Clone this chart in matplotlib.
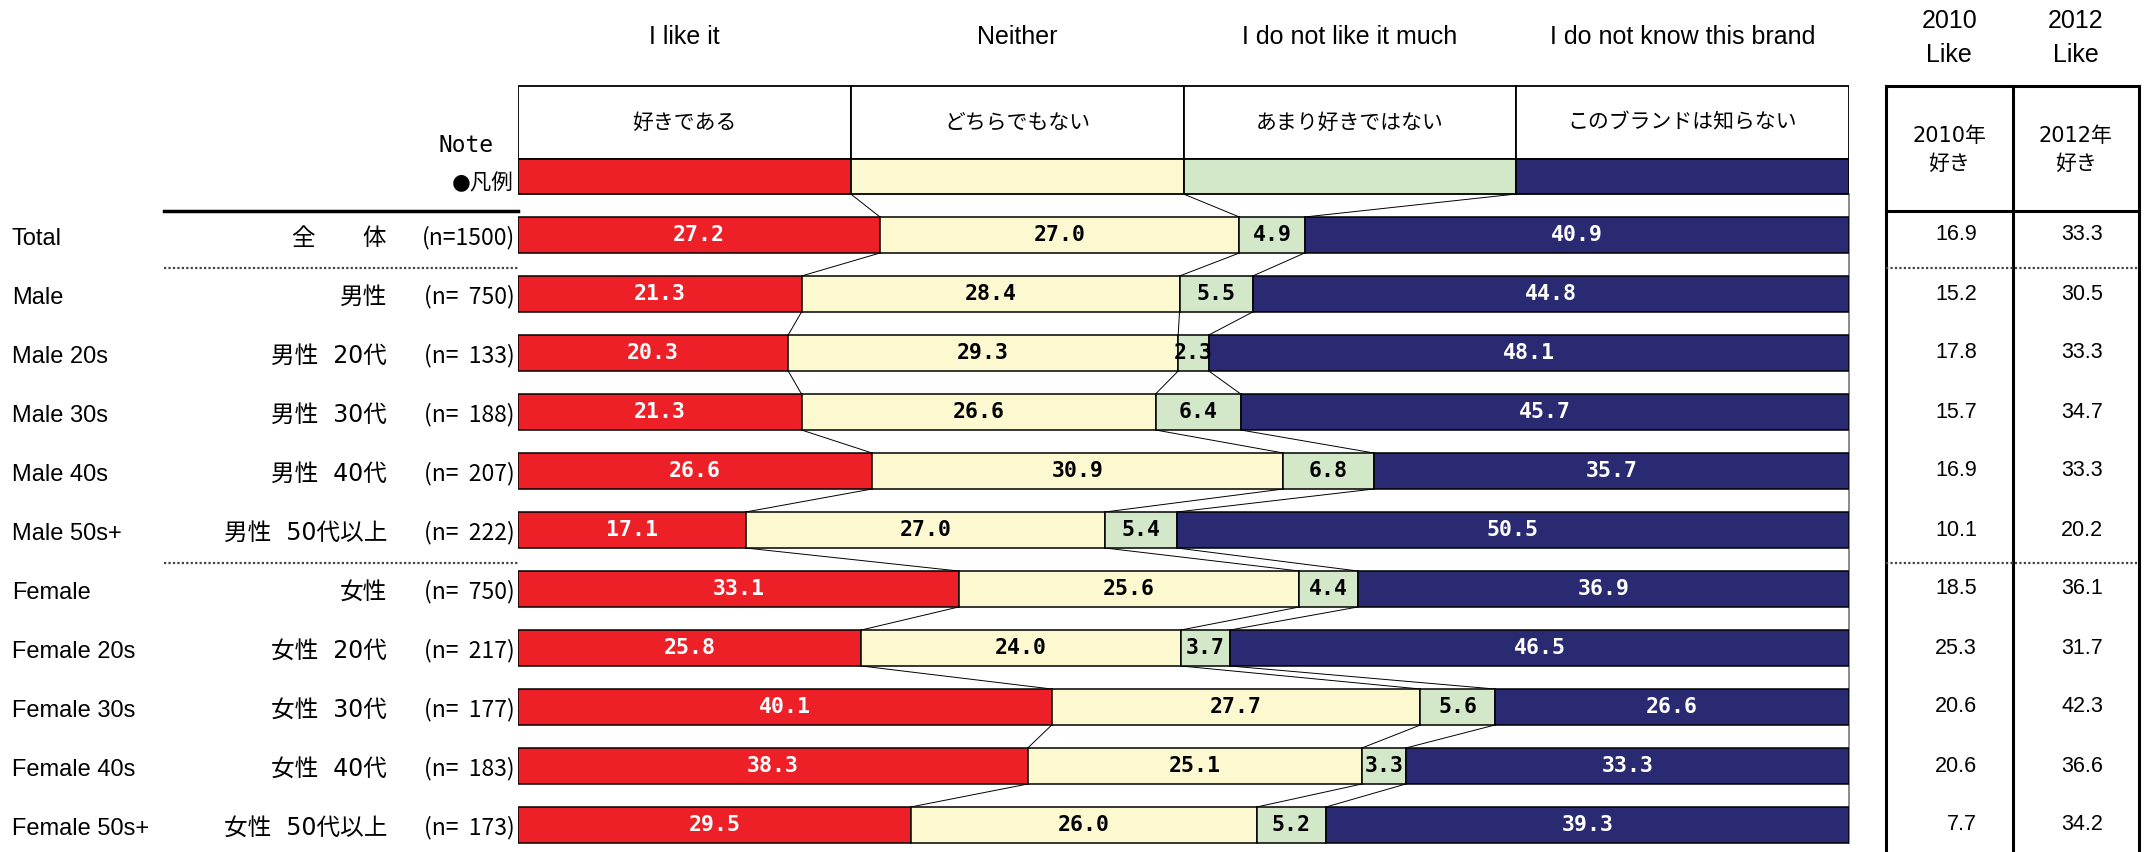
import numpy as np
import matplotlib
matplotlib.use("Agg")
import matplotlib.pyplot as plt
from matplotlib import transforms

# survey groups
groups_en = ["Total", "Male", "Male 20s", "Male 30s", "Male 40s", "Male 50s+",
             "Female", "Female 20s", "Female 30s", "Female 40s", "Female 50s+"]
groups_jp = ["全　　体", "男性", "男性  20代", "男性  30代", "男性  40代", "男性  50代以上",
             "女性", "女性  20代", "女性  30代", "女性  40代", "女性  50代以上"]
sample_n = [1500, 750, 133, 188, 207, 222, 750, 217, 177, 183, 173]

# answer shares (%)
like = [27.2, 21.3, 20.3, 21.3, 26.6, 17.1, 33.1, 25.8, 40.1, 38.3, 29.5]
neither = [27.0, 28.4, 29.3, 26.6, 30.9, 27.0, 25.6, 24.0, 27.7, 25.1, 26.0]
dislike = [4.9, 5.5, 2.3, 6.4, 6.8, 5.4, 4.4, 3.7, 5.6, 3.3, 5.2]
unknown = [40.9, 44.8, 48.1, 45.7, 35.7, 50.5, 36.9, 46.5, 26.6, 33.3, 39.3]

# "like" share in earlier surveys
like_2010 = [16.9, 15.2, 17.8, 15.7, 16.9, 10.1, 18.5, 25.3, 20.6, 20.6, 7.7]
like_2012 = [33.3, 30.5, 33.3, 34.7, 33.3, 20.2, 36.1, 31.7, 42.3, 36.6, 34.2]

cats_en = ["I like it", "Neither", "I do not like it much", "I do not know this brand"]
cats_jp = ["好きである", "どちらでもない", "あまり好きではない", "このブランドは知らない"]
colors = ["#ED2027", "#FCF9D1", "#D3E8C8", "#292A72"]
text_colors = ["white", "black", "black", "white"]

JP = "Noto Sans CJK JP"
EN = "Liberation Sans"
MONO = "DejaVu Sans Mono"
MIX = ["DejaVu Sans", JP]

W, H = 2147, 852
fig = plt.figure(figsize=(W / 100, H / 100), dpi=100)

# rows are 59 px apart, first bar centred at y=235 px
def row(px):
    return (px - 235) / 59.0

ylim = (row(H), row(0))
bar_h = 36 / 59.0

ax = fig.add_axes([518 / W, 0, (1849 - 518) / W, 1])
ax.set_xlim(0, 100)
ax.set_ylim(*ylim)
ax.axis("off")

tab = fig.add_axes([1886 / W, 0, (2139 - 1886) / W, 1])
tab.set_xlim(0, 2)
tab.set_ylim(*ylim)
tab.axis("off")

# x in figure pixels, y in row units
fx = transforms.blended_transform_factory(fig.transFigure, ax.transData)
def px(x):
    return x / W

vals = np.array([like, neither, dislike, unknown]).T
cum = np.cumsum(vals, axis=1)
starts = cum - vals
rows = np.arange(len(groups_en))

# stacked bars
for k in range(4):
    ax.barh(rows, vals[:, k], left=starts[:, k], height=bar_h, color=colors[k],
            edgecolor="black", linewidth=1.1, zorder=3)
    for i in rows:
        ax.text(starts[i, k] + vals[i, k] / 2, i, f"{vals[i, k]:.1f}", ha="center",
                va="center", color=text_colors[k], fontsize=15.5, fontweight="bold",
                family=MONO, zorder=5)

# legend block: header cells and colour swatches
leg_top, leg_mid, leg_bot = row(86), row(159), row(194)
for k in range(4):
    ax.bar(k * 25, leg_mid - leg_top, width=25, bottom=leg_top, align="edge",
           color="white", edgecolor="black", linewidth=1.3, zorder=3)
    ax.bar(k * 25, leg_bot - leg_mid, width=25, bottom=leg_mid, align="edge",
           color=colors[k], edgecolor="black", linewidth=1.3, zorder=3)
    ax.text(k * 25 + 12.5, (leg_top + leg_mid) / 2, cats_jp[k], ha="center",
            va="center", fontsize=15, family=JP)
    ax.text(k * 25 + 12.5, row(37), cats_en[k], ha="center", va="center",
            fontsize=18, family=EN)

# connector lines between neighbouring bars
legend_edges = [25, 50, 75]
for b in range(3):
    ax.plot([legend_edges[b], cum[0, b]], [leg_bot, -bar_h / 2],
            color="black", linewidth=0.7, zorder=2)
    for i in rows[:-1]:
        ax.plot([cum[i, b], cum[i + 1, b]], [i + bar_h / 2, i + 1 - bar_h / 2],
                color="black", linewidth=0.7, zorder=2)

# thin grey frame line on the right of the bars
ax.plot([100, 100], [leg_bot, rows[-1] + bar_h / 2], color="#777777",
        linewidth=1.2, zorder=2, clip_on=False)

# row labels
for i in rows:
    n_txt = f"(n={sample_n[i]})" if sample_n[i] >= 1000 else f"(n=  {sample_n[i]})"
    ax.text(px(12), i + 0.07, groups_en[i], transform=fx, ha="left", va="center",
            fontsize=17, family=EN)
    ax.text(px(387), i + 0.05, groups_jp[i], transform=fx, ha="right", va="center",
            fontsize=17, family=MIX)
    ax.text(px(515), i + 0.05, n_txt, transform=fx, ha="right",
            va="center", fontsize=16.5, family=JP)

ax.text(px(493), row(145), "Note", transform=fx, ha="right", va="center",
        fontsize=16.5, family=MONO)
ax.text(px(514), row(183), "●凡例", transform=fx, ha="right", va="center",
        fontsize=15.5, family=MIX)

# separators on the label side
ax.plot([px(164), px(518)], [row(211)] * 2, transform=fx, color="black",
        linewidth=2.5, clip_on=False)
for y in [row(268), row(563)]:
    ax.plot([px(164), px(518)], [y, y], transform=fx, color="#444444",
            linewidth=1.6, linestyle=(0, (1, 1)), clip_on=False)

# comparison table
tab_top, tab_head = row(86), row(211)
lw = 2.2
tab.plot([0, 2], [tab_top, tab_top], color="black", linewidth=lw, clip_on=False)
tab.plot([0, 2], [tab_head, tab_head], color="black", linewidth=lw, clip_on=False)
for x in [0, 1, 2]:
    tab.plot([x, x], [tab_top, ylim[0]], color="black", linewidth=lw, clip_on=False)
for y in [row(268), row(563)]:
    tab.plot([0, 2], [y, y], color="#444444", linewidth=1.6,
             linestyle=(0, (1, 1)), clip_on=False)

for c, year in enumerate(["2010", "2012"]):
    tab.text(c + 0.5, row(21), year, ha="center", va="center", fontsize=18, family=EN)
    tab.text(c + 0.5, row(55), "Like", ha="center", va="center", fontsize=18, family=EN)
    tab.text(c + 0.5, row(136), f"{year}年", ha="center", va="center",
             fontsize=15, family=MIX)
    tab.text(c + 0.5, row(164), "好き", ha="center", va="center", fontsize=15, family=JP)

for i in rows:
    tab.text(0.72, i, f"{like_2010[i]:.1f}", ha="right", va="center",
             fontsize=15.5, family=EN)
    tab.text(1.715, i, f"{like_2012[i]:.1f}", ha="right", va="center",
             fontsize=15.5, family=EN)

fig.savefig("out.png", dpi=100, facecolor="white")
